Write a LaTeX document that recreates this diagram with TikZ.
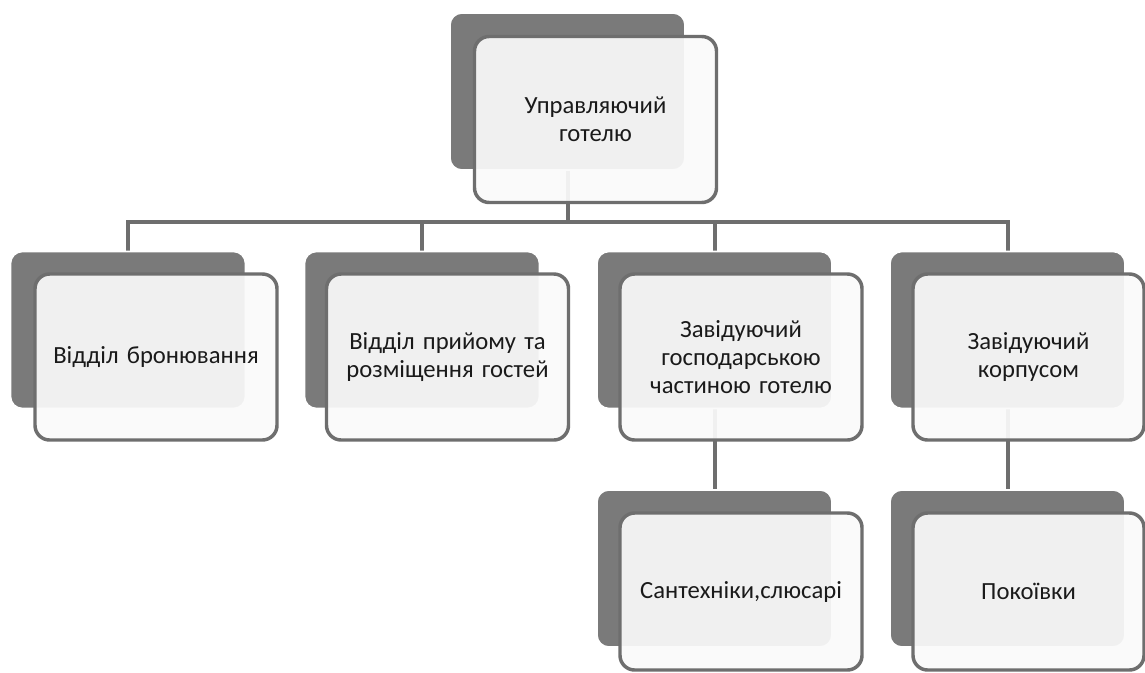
\documentclass[tikz,border=0pt]{standalone}
\usepackage{fontspec}
\setmainfont{Carlito}
\pgfdeclarelayer{bg}
\pgfsetlayers{bg,main}
\definecolor{backgray}{HTML}{7A7A7A}
\definecolor{edgegray}{HTML}{6E6E6E}
\definecolor{frontfill}{HTML}{FAFAFA}
\definecolor{txt}{HTML}{1A1A1A}
\begin{document}
\begin{tikzpicture}[x=0.75pt,y=-0.75pt,
  backbox/.style={rectangle, rounded corners=9pt, fill=backgray, draw=white, line width=1.2pt,
    minimum width=176.25pt, minimum height=117.75pt, inner sep=0pt},
  frontbox/.style={rectangle, rounded corners=11pt, fill=frontfill, fill opacity=0.93, text opacity=1,
    draw=edgegray, line width=2.6pt, minimum width=181.5pt, minimum height=124.5pt, inner sep=0pt,
    text width=172pt, align=center, text=txt, font=\fontsize{18.5}{21}\selectfont},
  conn/.style={draw=edgegray, line width=3pt, line join=miter, line cap=butt}]
\useasboundingbox (0,0) rectangle (1145,672);
\clip (0,0) rectangle (1145,672);

% back boxes
\node[backbox] (t0) at (567.5,91.5) {};
\node[backbox] (b1) at (128,330) {};
\node[backbox] (b2) at (422,330) {};
\node[backbox] (b3) at (714.5,330) {};
\node[backbox] (b4) at (1007.5,330) {};
\node[backbox] (c1) at (714.5,568.5) {};
\node[backbox] (c2) at (1007.5,568.5) {};

% front boxes
\node[frontbox] (ft0) at (595.5,119.5) {Управляючий\\готелю};
\node[frontbox] (fb1) at (156,357) {Відділ бронювання};
\node[frontbox] (fb2) at (447.5,357) {Відділ прийому та\\розміщення гостей};
\node[frontbox] (fb3) at (741,357) {Завідуючий\\господарською\\частиною готелю};
\node[frontbox, minimum width=173.25pt] (fb4) at (1028.5,357) {Завідуючий\\корпусом};
\node[frontbox, minimum height=117.75pt] (fc1) at (741,591.5) {Сантехніки,слюсарі};
\node[frontbox, minimum width=173.25pt, minimum height=117.75pt] (fc2) at (1028.5,591.5) {Покоївки};

\coordinate (bar) at (0,222);

\begin{pgfonlayer}{bg}
\fill[white] (0,0) rectangle (1145,672);
\draw[conn] (b1.center) -- (b1.center |- bar) -- (b4.center |- bar) -- (b4.center);
\draw[conn] (t0.center) -- (t0.center |- bar);
\draw[conn] (b2.center) -- (b2.center |- bar);
\draw[conn] (b3.center) -- (b3.center |- bar);
\draw[conn] (b3.center) -- (c1.center);
\draw[conn] (b4.center) -- (c2.center);
\end{pgfonlayer}
\end{tikzpicture}
\end{document}
